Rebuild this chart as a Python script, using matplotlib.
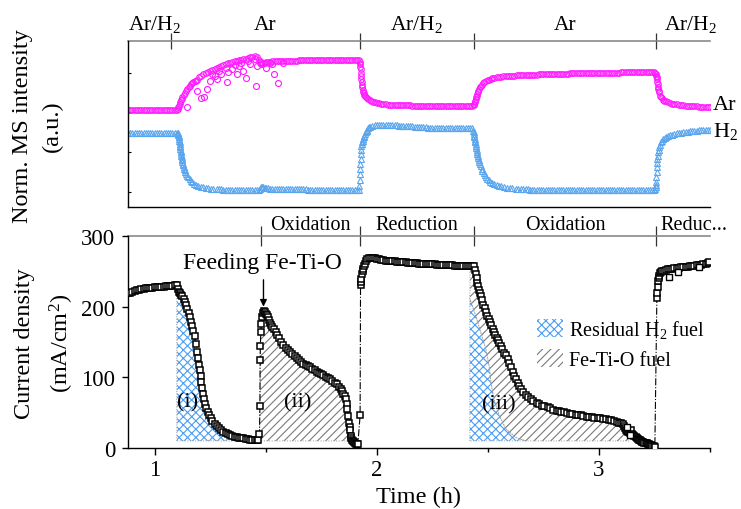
import numpy as np
import matplotlib
matplotlib.use('Agg')
import matplotlib.pyplot as plt
from matplotlib.patches import Patch
from matplotlib.ticker import MultipleLocator, NullLocator

plt.rcParams['font.family'] = 'Liberation Serif'
plt.rcParams['mathtext.fontset'] = 'custom'
plt.rcParams['mathtext.rm'] = 'Liberation Serif'
plt.rcParams['mathtext.it'] = 'Liberation Serif:italic'
plt.rcParams['hatch.linewidth'] = 0.8

# ---- data (time in h) ----
# normalised MS signal, Ar (magenta circles)
ar_points = [
    (0.88, .586), (0.89, .586), (0.90, .586), (0.91, .586), (0.92, .586), (0.93, .586),
    (0.94, .586), (0.95, .586), (0.96, .586), (0.97, .586), (0.98, .586), (0.99, .586),
    (1.00, .586), (1.01, .586), (1.02, .586), (1.03, .586), (1.04, .586), (1.05, .586),
    (1.06, .586), (1.07, .586), (1.08, .586), (1.09, .586), (1.10, .587),
    (1.103, .592), (1.106, .60), (1.109, .61), (1.112, .622), (1.115, .632), (1.118, .642),
    (1.121, .65), (1.125, .661), (1.13, .673), (1.135, .685), (1.14, .697), (1.147, .711),
    (1.153, .72), (1.16, .73), (1.165, .738), (1.17, .745), (1.175, .75), (1.18, .756),
    (1.185, .761), (1.19, .767), (1.20, .78), (1.21, .79), (1.22, .80), (1.23, .808),
    (1.24, .815), (1.25, .822), (1.26, .828), (1.27, .834), (1.28, .84), (1.29, .846),
    (1.30, .852), (1.31, .857), (1.32, .862), (1.33, .866), (1.34, .870), (1.35, .874),
    (1.36, .877), (1.37, .880), (1.38, .883), (1.39, .887), (1.40, .890), (1.41, .893),
    (1.42, .897), (1.43, .901), (1.44, .905), (1.45, .908), (1.46, .905), (1.47, .885),
    (1.475, .870), (1.48, .862), (1.485, .863), (1.49, .866), (1.495, .869), (1.50, .872),
    (1.51, .874), (1.52, .876), (1.53, .877), (1.54, .878), (1.55, .878), (1.56, .879),
    (1.57, .879), (1.58, .880), (1.59, .880), (1.60, .881), (1.61, .881), (1.62, .882),
    (1.63, .882), (1.64, .882), (1.65, .883), (1.66, .883), (1.67, .883), (1.68, .883),
    (1.69, .884), (1.70, .884), (1.71, .884), (1.72, .884), (1.73, .884), (1.74, .884),
    (1.75, .884), (1.76, .884), (1.77, .884), (1.78, .884), (1.79, .885), (1.80, .885),
    (1.81, .885), (1.82, .885), (1.83, .885), (1.84, .885), (1.85, .885), (1.86, .885),
    (1.87, .885), (1.88, .885), (1.89, .885), (1.90, .885), (1.91, .884), (1.92, .884),
    (1.923, .875), (1.925, .86), (1.926, .845), (1.927, .83), (1.928, .81), (1.929, .79),
    (1.93, .77), (1.932, .75), (1.934, .735), (1.935, .72), (1.937, .707), (1.939, .695),
    (1.942, .684), (1.944, .675), (1.948, .667), (1.952, .66), (1.957, .654), (1.962, .648),
    (1.968, .643), (1.975, .638), (1.982, .635), (1.99, .632), (2.00, .628), (2.01, .625),
    (2.02, .622), (2.03, .620), (2.04, .618), (2.05, .617), (2.06, .616), (2.07, .615),
    (2.08, .615), (2.09, .614), (2.10, .614), (2.11, .613), (2.12, .613), (2.13, .612),
    (2.14, .612), (2.15, .612), (2.16, .611), (2.17, .611), (2.18, .611), (2.19, .611),
    (2.20, .610), (2.21, .610), (2.22, .610), (2.23, .610), (2.24, .609), (2.25, .609),
    (2.26, .609), (2.27, .609), (2.28, .608), (2.29, .608), (2.30, .608), (2.31, .608),
    (2.32, .608), (2.33, .608), (2.34, .607), (2.35, .607), (2.36, .607), (2.37, .607),
    (2.38, .607), (2.39, .607), (2.40, .607), (2.41, .607), (2.42, .607), (2.43, .607),
    (2.437, .612), (2.439, .62), (2.441, .63), (2.443, .64), (2.445, .65), (2.447, .66),
    (2.45, .67), (2.452, .68), (2.455, .69), (2.458, .70), (2.461, .71), (2.465, .72),
    (2.47, .728), (2.475, .737), (2.48, .745), (2.484, .751), (2.49, .756), (2.50, .762),
    (2.507, .767), (2.514, .771), (2.52, .774), (2.53, .778), (2.54, .781), (2.55, .783),
    (2.56, .785), (2.57, .787), (2.58, .788), (2.59, .789), (2.60, .790), (2.61, .791),
    (2.62, .792), (2.63, .793), (2.64, .794), (2.65, .795), (2.66, .795), (2.67, .796),
    (2.68, .796), (2.69, .797), (2.70, .797), (2.71, .798), (2.72, .798), (2.73, .799),
    (2.74, .799), (2.75, .800), (2.76, .800), (2.77, .801), (2.78, .801), (2.79, .802),
    (2.80, .802), (2.81, .803), (2.82, .803), (2.83, .803), (2.84, .804), (2.85, .804),
    (2.86, .804), (2.87, .805), (2.88, .805), (2.89, .805), (2.90, .806), (2.91, .806),
    (2.92, .806), (2.93, .806), (2.94, .807), (2.95, .807), (2.96, .807), (2.97, .807),
    (2.98, .808), (2.99, .808), (3.00, .808), (3.01, .808), (3.02, .809), (3.03, .809),
    (3.04, .809), (3.05, .809), (3.06, .810), (3.07, .810), (3.08, .810), (3.09, .810),
    (3.10, .811), (3.11, .811), (3.12, .811), (3.13, .811), (3.14, .812), (3.15, .812),
    (3.16, .812), (3.17, .812), (3.18, .813), (3.19, .813), (3.20, .813), (3.21, .813),
    (3.22, .814), (3.23, .814), (3.24, .814), (3.25, .815),
    (3.254, .81), (3.256, .80), (3.258, .79), (3.26, .78), (3.261, .771), (3.263, .755),
    (3.264, .74), (3.266, .725), (3.267, .711), (3.27, .70), (3.272, .69), (3.276, .67),
    (3.28, .662), (3.285, .655), (3.29, .647), (3.294, .64), (3.30, .636), (3.31, .63),
    (3.32, .626), (3.33, .623), (3.34, .62), (3.35, .618), (3.36, .616), (3.37, .614),
    (3.38, .613), (3.39, .611), (3.40, .61), (3.41, .609), (3.42, .608), (3.43, .607),
    (3.44, .606), (3.45, .605), (3.46, .604), (3.47, .603), (3.48, .602), (3.49, .601),
    (3.50, .60),
]
# noisy Ar readings during the first Ar purge
ar_scatter = [
    (1.147, .604), (1.19, .70), (1.207, .655), (1.222, .661), (1.237, .711), (1.25, .76),
    (1.27, .79), (1.282, .771), (1.29, .82), (1.30, .80), (1.327, .75), (1.33, .815),
    (1.35, .83), (1.36, .855), (1.37, .80), (1.38, .85), (1.40, .82), (1.41, .775),
    (1.42, .88), (1.43, .86), (1.455, .731), (1.46, .85), (1.50, .84), (1.53, .86),
    (1.537, .80), (1.557, .745), (1.58, .865), (1.32, .84), (1.39, .87), (1.45, .89),
    (1.26, .80), (1.48, .875), (1.52, .87),
]
# normalised MS signal, H2 (blue triangles)
h2_points = [
    (0.88, .446), (0.89, .446), (0.90, .446), (0.91, .446), (0.92, .446), (0.93, .446),
    (0.94, .446), (0.95, .446), (0.96, .446), (0.97, .446), (0.98, .446), (0.99, .446),
    (1.00, .446), (1.01, .446), (1.02, .446), (1.03, .446), (1.04, .446), (1.05, .446),
    (1.06, .446), (1.07, .446), (1.08, .446), (1.09, .446), (1.10, .446),
    (1.103, .443), (1.105, .44), (1.107, .435), (1.108, .43), (1.109, .42), (1.11, .41),
    (1.111, .40), (1.112, .39), (1.113, .38), (1.114, .37), (1.115, .36), (1.116, .35),
    (1.117, .34), (1.118, .33), (1.119, .32), (1.12, .309), (1.122, .30), (1.123, .29),
    (1.124, .28), (1.125, .269), (1.127, .26), (1.128, .25), (1.13, .24), (1.132, .229),
    (1.135, .22), (1.138, .21), (1.142, .20), (1.147, .189), (1.152, .178), (1.157, .168),
    (1.163, .158), (1.17, .149), (1.177, .141), (1.185, .133), (1.195, .127), (1.207, .122),
    (1.22, .118), (1.23, .115), (1.24, .113), (1.255, .111), (1.265, .110), (1.28, .108),
    (1.29, .107), (1.30, .106), (1.31, .105), (1.32, .104), (1.33, .103), (1.34, .103),
    (1.35, .102), (1.36, .102), (1.37, .102), (1.38, .102), (1.39, .102), (1.40, .102),
    (1.41, .102), (1.42, .102), (1.43, .102), (1.44, .102), (1.45, .102), (1.46, .102),
    (1.47, .104), (1.475, .11), (1.48, .118), (1.485, .122), (1.49, .12), (1.495, .116),
    (1.50, .114), (1.51, .112), (1.52, .111), (1.53, .110), (1.54, .109), (1.55, .109),
    (1.56, .108), (1.57, .108), (1.58, .107), (1.59, .107), (1.60, .107), (1.61, .107),
    (1.62, .106), (1.63, .106), (1.64, .106), (1.65, .106), (1.66, .106), (1.67, .106),
    (1.68, .106), (1.69, .105), (1.70, .105), (1.71, .105), (1.72, .105), (1.73, .105),
    (1.74, .105), (1.75, .105), (1.76, .105), (1.77, .105), (1.78, .105), (1.79, .104),
    (1.80, .104), (1.81, .104), (1.82, .104), (1.83, .104), (1.84, .104), (1.85, .104),
    (1.86, .104), (1.87, .104), (1.88, .104), (1.89, .104), (1.90, .104), (1.91, .104),
    (1.92, .104),
    (1.922, .128), (1.923, .16), (1.924, .199), (1.925, .23), (1.926, .259), (1.927, .29),
    (1.928, .319), (1.929, .345), (1.93, .369), (1.932, .38), (1.934, .39), (1.936, .40),
    (1.938, .41), (1.941, .42), (1.944, .43), (1.947, .44), (1.95, .45), (1.954, .458),
    (1.957, .465), (1.961, .473), (1.965, .48), (1.97, .484), (1.98, .488), (1.99, .491),
    (2.00, .493), (2.01, .494), (2.02, .494), (2.03, .494), (2.04, .493), (2.05, .493),
    (2.06, .492), (2.07, .492), (2.08, .491), (2.09, .491), (2.10, .490), (2.11, .489),
    (2.12, .489), (2.13, .488), (2.14, .487), (2.15, .486), (2.16, .485), (2.17, .484),
    (2.18, .483), (2.19, .482), (2.20, .481), (2.21, .480), (2.22, .479), (2.23, .478),
    (2.24, .477), (2.25, .477), (2.26, .476), (2.27, .476), (2.28, .475), (2.29, .475),
    (2.30, .475), (2.31, .475), (2.32, .475), (2.33, .474), (2.34, .474), (2.35, .474),
    (2.36, .474), (2.37, .474), (2.38, .474), (2.39, .474), (2.40, .474), (2.41, .474),
    (2.42, .474), (2.43, .474),
    (2.435, .46), (2.436, .45), (2.437, .44), (2.438, .43), (2.44, .42), (2.441, .41),
    (2.443, .40), (2.444, .39), (2.446, .38), (2.447, .369), (2.449, .357), (2.45, .345),
    (2.452, .332), (2.453, .319), (2.455, .306), (2.457, .294), (2.459, .281), (2.461, .269),
    (2.464, .256), (2.468, .244), (2.472, .231), (2.476, .219), (2.481, .206), (2.486, .194),
    (2.492, .181), (2.498, .169), (2.505, .16), (2.512, .152), (2.52, .145), (2.528, .139),
    (2.54, .133), (2.55, .128), (2.56, .124), (2.574, .119), (2.585, .116), (2.60, .114),
    (2.61, .112), (2.625, .111), (2.635, .109), (2.65, .108), (2.66, .107), (2.67, .106),
    (2.68, .106), (2.69, .105), (2.70, .105), (2.71, .104), (2.72, .104), (2.73, .103),
    (2.74, .103), (2.75, .103), (2.76, .102), (2.77, .102), (2.78, .102), (2.79, .102),
    (2.80, .102), (2.81, .102), (2.82, .102), (2.83, .102), (2.84, .102), (2.85, .102),
    (2.86, .102), (2.87, .102), (2.88, .102), (2.89, .102), (2.90, .102), (2.91, .102),
    (2.92, .102), (2.93, .102), (2.94, .102), (2.95, .102), (2.96, .102), (2.97, .102),
    (2.98, .102), (2.99, .102), (3.00, .102), (3.01, .102), (3.02, .102), (3.03, .102),
    (3.04, .102), (3.05, .102), (3.06, .102), (3.07, .102), (3.08, .102), (3.09, .102),
    (3.10, .102), (3.11, .102), (3.12, .102), (3.13, .102), (3.14, .102), (3.15, .102),
    (3.16, .102), (3.17, .102), (3.18, .102), (3.19, .102), (3.20, .102), (3.21, .102),
    (3.22, .102), (3.23, .102), (3.24, .102), (3.25, .102),
    (3.254, .11), (3.256, .119), (3.257, .135), (3.258, .15), (3.259, .179), (3.26, .21),
    (3.261, .239), (3.262, .265), (3.263, .289), (3.265, .31), (3.267, .329), (3.27, .345),
    (3.272, .36), (3.276, .375), (3.28, .39), (3.285, .40), (3.29, .408), (3.296, .414),
    (3.302, .42), (3.31, .426), (3.32, .432), (3.33, .436), (3.34, .44), (3.35, .443),
    (3.36, .446), (3.37, .448), (3.38, .45), (3.39, .452), (3.40, .454), (3.41, .456),
    (3.42, .457), (3.43, .458), (3.44, .46), (3.45, .461), (3.46, .462), (3.47, .463),
    (3.48, .464), (3.49, .465), (3.50, .466),
]
# current density (mA/cm2)
cur_points = [
    (0.88, 219), (0.89, 220), (0.90, 221), (0.91, 222), (0.92, 223), (0.93, 224),
    (0.94, 225), (0.95, 225.5), (0.96, 226), (0.97, 226.5), (0.98, 227), (0.99, 227),
    (1.00, 227.5), (1.01, 227.5), (1.02, 228), (1.03, 228), (1.04, 228.5), (1.05, 229),
    (1.06, 229), (1.07, 229.5), (1.08, 229.5), (1.09, 230), (1.10, 231),
    (1.105, 225), (1.11, 221), (1.115, 219), (1.12, 217), (1.125, 215), (1.13, 211),
    (1.135, 207), (1.14, 203), (1.147, 197), (1.153, 191), (1.16, 185), (1.165, 179),
    (1.17, 173), (1.175, 166), (1.18, 158), (1.186, 147), (1.192, 136), (1.196, 127),
    (1.20, 118), (1.204, 110), (1.207, 102), (1.211, 94), (1.215, 85), (1.218, 77),
    (1.222, 69), (1.227, 62), (1.233, 56), (1.239, 51), (1.245, 46), (1.252, 42),
    (1.26, 38), (1.27, 34), (1.28, 30.5), (1.29, 28), (1.30, 25), (1.31, 23),
    (1.32, 21), (1.33, 19.5), (1.34, 18), (1.35, 17), (1.36, 16), (1.37, 15),
    (1.38, 14.5), (1.39, 14), (1.40, 13.5), (1.41, 13), (1.42, 12.5), (1.43, 12),
    (1.44, 11.8), (1.45, 11.5), (1.46, 11.2), (1.465, 11),
    (1.472, 20), (1.474, 60), (1.475, 124), (1.476, 145), (1.478, 164), (1.481, 175),
    (1.485, 185), (1.489, 191), (1.492, 194), (1.496, 192), (1.50, 190), (1.505, 188),
    (1.51, 185), (1.515, 181), (1.52, 177), (1.525, 174), (1.53, 171), (1.537, 168),
    (1.545, 164), (1.55, 160), (1.56, 155), (1.57, 150), (1.58, 146), (1.59, 142),
    (1.60, 139), (1.61, 136), (1.62, 133), (1.63, 130), (1.64, 127), (1.65, 124),
    (1.66, 122), (1.67, 119.5), (1.68, 117), (1.69, 115.5), (1.70, 114), (1.71, 112),
    (1.72, 110), (1.73, 108), (1.74, 106.5), (1.75, 105), (1.76, 103), (1.77, 101),
    (1.78, 99), (1.79, 97), (1.80, 95), (1.81, 92.5), (1.82, 90), (1.83, 86),
    (1.838, 83), (1.845, 80), (1.85, 77), (1.855, 73), (1.86, 69), (1.864, 62),
    (1.868, 55), (1.872, 45), (1.875, 36), (1.878, 30), (1.88, 25), (1.883, 17),
    (1.886, 14), (1.89, 12), (1.894, 10), (1.897, 8), (1.901, 7), (1.905, 6),
    (1.91, 5.7), (1.915, 5.5),
    (1.925, 46), (1.927, 230), (1.929, 235), (1.931, 239), (1.934, 246), (1.937, 250),
    (1.94, 253), (1.944, 257), (1.947, 260), (1.952, 264), (1.958, 267), (1.965, 268.5),
    (1.975, 269), (1.985, 269), (1.99, 268.5), (2.00, 268), (2.01, 267), (2.02, 266),
    (2.03, 265.5), (2.04, 265), (2.05, 265), (2.06, 264.5), (2.07, 264), (2.08, 264),
    (2.09, 263.5), (2.10, 263), (2.11, 263), (2.12, 263), (2.13, 262.5), (2.14, 262),
    (2.15, 262), (2.16, 262), (2.17, 261.5), (2.18, 261.5), (2.19, 261), (2.20, 261),
    (2.21, 260.5), (2.22, 260.5), (2.23, 260), (2.24, 260), (2.25, 260), (2.26, 260),
    (2.27, 259.5), (2.28, 259.5), (2.29, 259), (2.30, 259), (2.31, 259), (2.32, 259),
    (2.33, 258.5), (2.34, 258.5), (2.35, 258), (2.36, 258), (2.37, 258), (2.38, 258),
    (2.39, 257.5), (2.40, 257.5), (2.41, 257), (2.42, 257), (2.43, 257), (2.438, 257),
    (2.442, 252), (2.446, 246), (2.45, 240), (2.453, 234), (2.457, 229), (2.46, 224),
    (2.464, 219), (2.468, 215), (2.474, 209), (2.48, 203), (2.486, 198), (2.492, 192),
    (2.498, 187), (2.504, 183), (2.51, 178), (2.516, 174), (2.522, 169), (2.528, 164),
    (2.534, 160), (2.54, 156), (2.545, 153), (2.552, 149), (2.559, 145), (2.566, 140),
    (2.575, 135), (2.582, 131), (2.589, 126), (2.597, 120), (2.605, 114), (2.612, 108),
    (2.619, 102), (2.627, 97), (2.635, 92), (2.642, 87.5), (2.649, 83.5), (2.66, 79),
    (2.67, 75), (2.68, 72), (2.694, 69), (2.705, 67), (2.72, 64), (2.73, 62),
    (2.745, 60), (2.755, 59), (2.769, 57.6), (2.78, 56), (2.795, 54), (2.81, 53),
    (2.82, 52), (2.83, 51.5), (2.844, 50.5), (2.855, 49.5), (2.87, 48.5), (2.88, 48),
    (2.895, 47), (2.905, 46.5), (2.919, 46), (2.93, 45), (2.945, 44.5), (2.955, 44),
    (2.97, 43.5), (2.98, 43), (2.994, 42.5), (3.005, 42), (3.02, 41), (3.03, 40.5),
    (3.045, 40), (3.055, 39.5), (3.069, 38.7), (3.08, 37.5), (3.09, 36), (3.10, 35),
    (3.107, 34), (3.113, 31), (3.118, 28), (3.122, 26), (3.125, 24), (3.13, 23),
    (3.135, 22), (3.14, 21), (3.145, 26), (3.15, 20), (3.155, 18), (3.159, 17),
    (3.165, 15.5), (3.17, 14), (3.175, 13), (3.18, 12), (3.185, 11), (3.189, 10),
    (3.195, 9), (3.20, 8), (3.205, 7.5), (3.21, 7), (3.215, 6.5), (3.219, 6),
    (3.225, 5), (3.23, 4.5), (3.235, 4), (3.24, 3.5), (3.246, 2.8), (3.252, 2),
    (3.261, 212), (3.262, 220), (3.264, 228), (3.267, 237), (3.27, 241), (3.272, 244),
    (3.276, 247), (3.28, 249), (3.286, 250), (3.293, 251), (3.30, 252), (3.31, 253),
    (3.32, 253.5), (3.33, 254), (3.34, 254.5), (3.35, 255), (3.36, 255.3), (3.37, 255.7),
    (3.38, 256), (3.39, 256.5), (3.40, 256.8), (3.41, 257), (3.42, 257.5), (3.43, 258),
    (3.44, 258.7), (3.45, 259.2), (3.46, 259.6), (3.47, 260), (3.48, 261), (3.49, 262),
    (3.496, 262.7),
]
cur_scatter = [(3.317, 241.5), (3.354, 248.6), (3.452, 255.7), (3.14, 18), (3.128, 30)]
# boundary of the residual-H2 share during the second oxidation
residual_h2 = [
    (2.419, 211), (2.446, 187), (2.468, 164), (2.491, 140), (2.506, 116), (2.514, 93),
    (2.528, 69), (2.551, 46), (2.581, 27), (2.626, 15), (2.671, 10),
]
fuel_base = 10
region_i = (1.10, 1.465)
region_ii = (1.472, 1.89)
region_iii = (2.42, 3.135)

gas_bounds = [1.072, 1.923, 2.437, 3.257]
gas_names = ['Ar/H$_2$', 'Ar', 'Ar/H$_2$', 'Ar', 'Ar/H$_2$']
mode_bounds = [1.477, 1.923, 2.437, 3.257]
mode_names = ['', 'Oxidation', 'Reduction', 'Oxidation', 'Reduc...']

XLIM = (0.88, 3.5)
MAGENTA = '#FF19FF'
BLUE = '#5AA6EE'
BLUE_HATCH = '#4A9EF5'
GREY_HATCH = '#7A7A7A'

ar = np.array(ar_points)
ars = np.array(ar_scatter)
h2 = np.array(h2_points)
cur = np.array(cur_points)
curs = np.array(cur_scatter)
res = np.array(residual_h2)


def phase_axis(ax, bounds, names, length, ytext, size, last_pad):
    sec = ax.secondary_xaxis('top')
    sec.set_ticks(bounds, labels=[''] * len(bounds))
    sec.xaxis.set_minor_locator(NullLocator())
    sec.tick_params(axis='x', which='major', direction='inout', length=length,
                    width=0.9, color='#333333')
    sec.spines['top'].set_color('#808080')
    sec.spines['top'].set_linewidth(1.1)
    edges = [XLIM[0]] + bounds + [XLIM[1]]
    tr = ax.get_xaxis_transform()
    for i, name in enumerate(names):
        if not name:
            continue
        if i == len(names) - 1:
            ax.text(edges[i] + last_pad, ytext, name, transform=tr, ha='left',
                    va='baseline', fontsize=size)
        elif i == 0:
            ax.text(edges[0], ytext, name, transform=tr, ha='left',
                    va='baseline', fontsize=size)
        else:
            ax.text((edges[i] + edges[i + 1]) / 2, ytext, name, transform=tr,
                    ha='center', va='baseline', fontsize=size)


fig = plt.figure(figsize=(7.41, 5.10), dpi=100)
ax1 = fig.add_axes([0.1727, 0.5922, 0.7854, 0.3255])
ax2 = fig.add_axes([0.1727, 0.1196, 0.7854, 0.4157])

# ---- top: MS signals ----
ax1.plot(ar[:, 0], ar[:, 1], 'o', mfc='none', mec=MAGENTA, ms=4.0, mew=0.8)
ax1.plot(ars[:, 0], ars[:, 1], 'o', mfc='none', mec=MAGENTA, ms=4.3, mew=0.8)
ax1.plot(h2[:, 0], h2[:, 1], '^', mfc='none', mec=BLUE, ms=4.0, mew=0.8)
ax1.set_xlim(*XLIM)
ax1.set_ylim(0, 1)
ax1.set_yticks([0.09, 0.33, 0.57, 0.81])
ax1.tick_params(axis='y', direction='in', length=2.5, labelleft=False)
ax1.tick_params(axis='x', bottom=False, labelbottom=False)
for s in ['top', 'right']:
    ax1.spines[s].set_visible(False)
phase_axis(ax1, gas_bounds, gas_names, 11, 1.072, 15.5, 0.036)
ax1.text(1.005, 0.59, 'Ar', transform=ax1.get_yaxis_transform(), ha='left',
         va='baseline', fontsize=16)
ax1.text(1.005, 0.428, 'H$_2$', transform=ax1.get_yaxis_transform(), ha='left',
         va='baseline', fontsize=16)

# ---- bottom: current density ----
t, j = cur[:, 0], cur[:, 1]
m1 = (t >= region_i[0]) & (t <= region_i[1])
m2 = (t >= region_ii[0]) & (t <= region_ii[1])
m3 = (t >= region_iii[0]) & (t <= region_iii[1])

ax2.fill_between(t[m1], j[m1], fuel_base, facecolor='none', edgecolor=BLUE_HATCH,
                 hatch='xxxx', lw=0, zorder=1)
ax2.fill_between(t[m1], j[m1], fuel_base, facecolor='none', edgecolor='#999999',
                 lw=0.7, ls=':', zorder=1)
ax2.fill_between(t[m2], j[m2], fuel_base, facecolor='none', edgecolor=GREY_HATCH,
                 hatch='////', lw=0, zorder=1)
ax2.fill_between(t[m2], j[m2], fuel_base, facecolor='none', edgecolor='#999999',
                 lw=0.7, ls=':', zorder=1)

blue_x = np.concatenate([[res[0, 0]], res[:, 0]])
blue_y = np.concatenate([[fuel_base], res[:, 1]])
ax2.fill(blue_x, blue_y, facecolor='none', edgecolor=BLUE_HATCH, hatch='xxxx', lw=0, zorder=1)
ax2.fill(blue_x, blue_y, facecolor='none', edgecolor='#999999', lw=0.7, ls=':', zorder=1)
grey_x = np.concatenate([t[m3], [region_iii[1]], res[::-1, 0]])
grey_y = np.concatenate([j[m3], [fuel_base], res[::-1, 1]])
ax2.fill(grey_x, grey_y, facecolor='none', edgecolor=GREY_HATCH, hatch='////', lw=0, zorder=1)
ax2.fill(grey_x, grey_y, facecolor='none', edgecolor='#999999', lw=0.7, ls=':', zorder=1)

ax2.plot(t, j, ls='-.', color='black', lw=0.8, zorder=2)
ax2.plot(t, j, 's', mfc='white', mec='black', ms=4.3, mew=1.1, zorder=3)
ax2.plot(curs[:, 0], curs[:, 1], 's', mfc='white', mec='black', ms=4.3, mew=1.0, zorder=3)

ax2.set_xlim(*XLIM)
ax2.set_ylim(0, 300)
ax2.set_yticks([0, 100, 200, 300])
ax2.set_xticks([1, 2, 3])
ax2.xaxis.set_minor_locator(MultipleLocator(0.5))
ax2.tick_params(axis='y', direction='out', length=4.3, width=1, pad=5, labelsize=16.5)
ax2.tick_params(axis='x', which='major', direction='out', length=5, width=1, pad=3,
                labelsize=16.5)
ax2.tick_params(axis='x', which='minor', direction='out', length=3, width=1)
for s in ['top', 'right']:
    ax2.spines[s].set_visible(False)
phase_axis(ax2, mode_bounds, mode_names, 14, 1.031, 14.5, 0.022)

ax2.text(1.485, 254.7, 'Feeding Fe-Ti-O', ha='center', va='baseline', fontsize=17)
ax2.annotate('', xy=(1.49, 200), xytext=(1.49, 238),
             arrowprops=dict(arrowstyle='-|>', color='black', lw=1.0,
                             mutation_scale=10, shrinkA=0, shrinkB=0))
ax2.text(1.149, 65, '(i)', ha='center', va='center', fontsize=16)
ax2.text(1.644, 65, '(ii)', ha='center', va='center', fontsize=16)
ax2.text(2.548, 62, '(iii)', ha='center', va='center', fontsize=16)

handles = [
    Patch(facecolor='white', edgecolor=BLUE_HATCH, hatch='xxxx', lw=0),
    Patch(facecolor='white', edgecolor=GREY_HATCH, hatch='////', lw=0),
]
ax2.legend(handles, ['Residual H$_2$ fuel', 'Fe-Ti-O fuel'], loc='upper left',
           bbox_to_anchor=(0.703, 0.615), frameon=False, fontsize=14.5,
           handlelength=1.3, handleheight=1.0, handletextpad=0.3,
           labelspacing=0.45, borderpad=0, borderaxespad=0)

for ax in (ax1, ax2):
    ax.spines['left'].set_linewidth(1.0)
    ax.spines['bottom'].set_linewidth(1.0)

fig.text(0.031, 0.752, 'Norm. MS intensity', rotation=90, ha='center', va='center',
         fontsize=17.5)
fig.text(0.070, 0.752, '(a.u.)', rotation=90, ha='center', va='center', fontsize=17.5)
fig.text(0.0324, 0.327, 'Current density', rotation=90, ha='center', va='center',
         fontsize=17.5)
fig.text(0.0837, 0.326, '(mA/cm$^2$)', rotation=90, ha='center', va='center',
         fontsize=17.5)
fig.text(0.5649, 0.0255, 'Time (h)', ha='center', va='center', fontsize=17.5)

fig.savefig('out.png', dpi=100)
